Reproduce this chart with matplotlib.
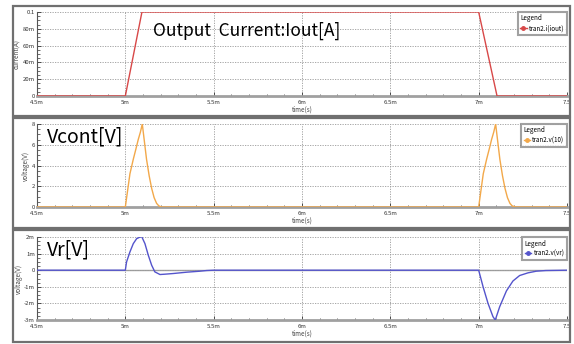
import matplotlib.pyplot as plt
from matplotlib.patches import Rectangle

plt.rcParams['font.family'] = ['Noto Sans CJK JP', 'DejaVu Sans']

# time in ms
x_ticks = [4.5, 5.0, 5.5, 6.0, 6.5, 7.0, 7.5]
x_labels = ['4.5m', '5m', '5.5m', '6m', '6.5m', '7m', '7.5']

# panel 1: output current (A)
i_t = [4.5, 5.0, 5.094, 7.0, 7.104, 7.5]
i_v = [0.0, 0.0, 0.1, 0.1, 0.0, 0.0]
i_ticks = [0, 0.02, 0.04, 0.06, 0.08, 0.1]
i_labels = ['0', '20m', '40m', '60m', '80m', '0.1']

# panel 2: Vcont (V)
vc_t = [4.5, 5.0, 5.013, 5.026, 5.045, 5.06, 5.073, 5.085, 5.096,
        5.108, 5.12, 5.135, 5.149, 5.163, 5.177, 5.19, 5.205,
        7.0, 7.013, 7.026, 7.045, 7.06, 7.073, 7.085, 7.096,
        7.108, 7.12, 7.135, 7.149, 7.163, 7.177, 7.19, 7.21, 7.5]
vc_v = [0, 0, 1.6, 3.2, 4.6, 5.6, 6.5, 7.2, 8.0,
        6.3, 4.6, 3.0, 1.8, 0.9, 0.35, 0.1, 0,
        0, 1.6, 3.2, 4.6, 5.6, 6.5, 7.2, 8.0,
        6.3, 4.6, 3.0, 1.8, 0.9, 0.35, 0.1, 0, 0]
vc_ticks = [0, 2, 4, 6, 8]
vc_labels = ['0', '2', '4', '6', '8']

# panel 3: Vr (mV)
vr_t = [4.5, 5.0, 5.007, 5.026, 5.045, 5.064, 5.092, 5.111, 5.130,
        5.149, 5.167, 5.196, 5.224, 5.271, 5.347, 5.422, 5.46, 5.5,
        7.0, 7.025, 7.053, 7.081, 7.094, 7.119, 7.157, 7.194, 7.232,
        7.279, 7.326, 7.38, 7.5]
vr_v = [0, 0, 0.5, 1.1, 1.6, 1.9, 2.04, 1.6, 0.9,
        0.3, -0.1, -0.26, -0.24, -0.2, -0.12, -0.06, -0.02, 0,
        0, -1.0, -2.0, -2.8, -3.0, -2.2, -1.25, -0.65, -0.32,
        -0.16, -0.06, -0.02, 0]
vr_ticks = [-3, -2, -1, 0, 1, 2]
vr_labels = ['-3m', '-2m', '-1m', '0', '1m', '2m']

W, H = 574, 344
fig = plt.figure(figsize=(W / 100, H / 100), dpi=100)
fig.patch.set_facecolor('white')

# panel frames (pixel coords: x0, y0, x1, y1)
frames = [(13, 6, 570, 116), (13, 118, 570, 228), (13, 230, 570, 342)]
for x0, y0, x1, y1 in frames:
    fig.patches.append(Rectangle((x0 / W, 1 - y1 / H), (x1 - x0) / W, (y1 - y0) / H,
                                 transform=fig.transFigure, fill=False,
                                 edgecolor='#707070', linewidth=1.6))

# axes boxes (pixel coords: left, top, right, bottom)
boxes = [(37, 12, 567, 96), (37, 124, 567, 207), (37, 237, 567, 320)]
axes = []
for l, t, r, b in boxes:
    ax = fig.add_axes([l / W, 1 - b / H, (r - l) / W, (b - t) / H])
    axes.append(ax)

panels = [
    (i_t, i_v, '#d84848', 'tran2.i(iout)', i_ticks, i_labels, (0, 0.1), 'current(A)',
     'Output  Current:Iout[A]', 0.219, 0.714, 12.5),
    (vc_t, vc_v, '#f2a84a', 'tran2.v(10)', vc_ticks, vc_labels, (0, 8), 'voltage(V)',
     'Vcont[V]', 0.019, 0.783, 14),
    (vr_t, vr_v, '#5454cc', 'tran2.v(vr)', vr_ticks, vr_labels, (-3, 2), 'voltage(V)',
     'Vr[V]', 0.019, 0.783, 14),
]

for k, (ax, p) in enumerate(zip(axes, panels)):
    t, v, col, name, yt, yl, ylim, ylab, big, bx, by, bs = p
    if k == 2:
        ax.axhline(0, color='#a0a0a0', lw=1.0, zorder=1)
    ax.plot(t, v, color=col, lw=1.0, label=name, marker='o', markersize=2.5,
            markevery=[], zorder=3)
    ax.set_xlim(4.5, 7.5)
    ax.set_ylim(*ylim)
    ax.set_xticks(x_ticks)
    ax.set_xticklabels(x_labels)
    ax.set_yticks(yt)
    ax.set_yticklabels(yl)
    ax.set_xticks([4.5 + 0.1 * j for j in range(31)], minor=True)
    ystep = (yt[1] - yt[0]) / 4
    ax.set_yticks([yt[0] + ystep * j for j in range(4 * (len(yt) - 1) + 1)], minor=True)
    ax.tick_params(axis='both', which='major', direction='in', length=3, width=0.6,
                   labelsize=4.3, colors='#333333', pad=1.5)
    ax.tick_params(axis='x', which='major', pad=3)
    ax.tick_params(axis='both', which='minor', direction='in', length=1.8, width=0.5,
                   colors='#333333')
    ax.grid(True, which='major', color='#999999', lw=0.6, linestyle=(0, (1.5, 1.5)))
    for s in ['top', 'right']:
        ax.spines[s].set_visible(False)
    ax.spines['left'].set_color('#555555')
    ax.spines['left'].set_linewidth(0.8)
    ax.spines['bottom'].set_color('#a0a0a0')
    ax.spines['bottom'].set_linewidth(2.0)
    ax.set_xlabel('time(s)', fontsize=4.5, color='#444444', labelpad=0)
    ax.set_ylabel(ylab, fontsize=4.5, color='#444444', labelpad=1)
    ax.text(bx, by, big, transform=ax.transAxes, fontsize=bs, color='black',
            va='baseline', ha='left')
    leg = ax.legend(loc='upper right', bbox_to_anchor=(1.0, 1.0), borderaxespad=0,
                    title='Legend', fontsize=4.5, title_fontsize=4.5, alignment='left',
                    frameon=True, fancybox=False, edgecolor='#8a8a8a',
                    handlelength=1.0, handletextpad=0.4, borderpad=0.4,
                    labelspacing=0.3)
    leg.get_frame().set_linewidth(1.5)

fig.savefig('out.png', dpi=100, facecolor='white')
